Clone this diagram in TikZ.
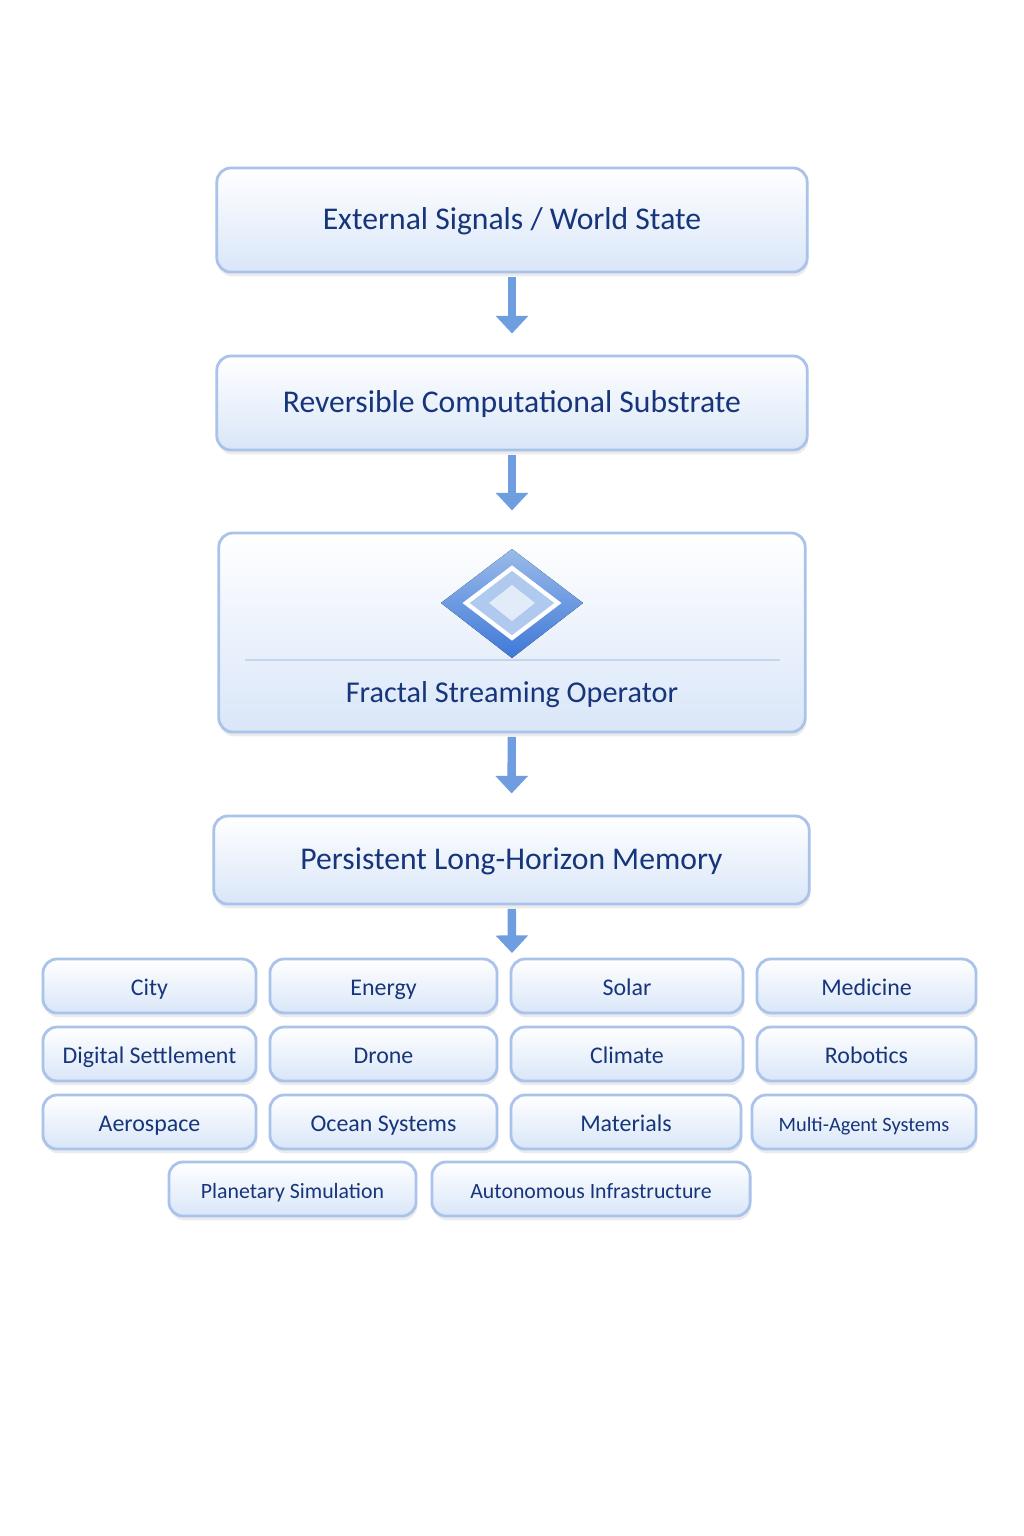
\documentclass[tikz,border=0pt]{standalone}
\usepackage{fontspec}
\setmainfont{Carlito}
\usetikzlibrary{positioning, shadows, arrows.meta}
\definecolor{navy}{HTML}{16357A}
\definecolor{edge}{HTML}{A9C3EA}
\definecolor{paleblue}{HTML}{D9E6F8}
\definecolor{arrowblue}{HTML}{6E9EE0}
\definecolor{deepblue}{HTML}{3F78D8}
\tikzset{
    x=0.01cm, y=-0.01cm,
    box/.style={draw=edge, line width=0.8pt, rounded corners=4pt, top color=white, bottom color=paleblue, text=navy, drop shadow={shadow xshift=0.3pt, shadow yshift=-1.2pt, fill=black!25, opacity=0.3}, inner sep=0pt, text height=1.5ex, text depth=0.4ex}, % big boxes
    tile/.style={box, font=\fontsize{6.8}{8}\selectfont, minimum height=0.54cm}, % domain tiles
    flow/.style={-{Triangle[length=5pt, width=9pt]}, arrowblue, line width=2.4pt, shorten <=1pt, shorten >=6pt}, % arrows down
}
\begin{document}
\begin{tikzpicture}
\useasboundingbox[fill=white] (0,0) rectangle (1024,1536);
\node[box, minimum width=5.9cm, minimum height=1.04cm, font=\fontsize{9}{11}\selectfont] (signals) at (512,220) {External Signals / World State};
\node[box, minimum width=5.9cm, minimum height=0.94cm, font=\fontsize{9}{11}\selectfont] (substrate) at (512,403) {Reversible Computational Substrate};
\node[box, minimum width=5.86cm, minimum height=1.99cm] (operator) at (512,632.5) {};
\node[text=navy, font=\fontsize{8.6}{11}\selectfont] (opname) at (512,695) {Fractal Streaming Operator};
\node[box, minimum width=5.95cm, minimum height=0.88cm, font=\fontsize{9}{11}\selectfont] (memory) at (511.5,860) {Persistent Long-Horizon Memory};
% separator and diamond mark
\draw[edge!70, line width=0.6pt] (245,660) -- (780,660);
\fill[top color=arrowblue!70, bottom color=deepblue] (512,549) -- (583,603) -- (512,658) -- (441,603) -- cycle;
\draw[white, line width=1.2pt, fill=arrowblue!55] (512,568) -- (558,603) -- (512,638) -- (466,603) -- cycle;
\fill[white!80!arrowblue] (512,585) -- (535,603) -- (512,621) -- (489,603) -- cycle;
% arrows
\coordinate (m1) at (512,953);
\draw[flow] (signals) -- (substrate);
\draw[flow] (substrate) -- (operator);
\draw[flow] (operator) -- (memory);
\draw[flow, shorten >=0pt] (memory) -- (m1);
% domain tiles
\node[tile, minimum width=2.13cm] (city) at (149.5,986) {City};
\node[tile, minimum width=2.27cm] (energy) at (383.5,986) {Energy};
\node[tile, minimum width=2.32cm] (solar) at (627,986) {Solar};
\node[tile, minimum width=2.19cm] (medicine) at (866.5,986) {Medicine};
\node[tile, minimum width=2.13cm] (settlement) at (149.5,1054) {Digital Settlement};
\node[tile, minimum width=2.27cm] (drone) at (383.5,1054) {Drone};
\node[tile, minimum width=2.32cm] (climate) at (627,1054) {Climate};
\node[tile, minimum width=2.19cm] (robotics) at (866.5,1054) {Robotics};
\node[tile, minimum width=2.13cm] (aerospace) at (149.5,1122) {Aerospace};
\node[tile, minimum width=2.27cm] (ocean) at (383.5,1122) {Ocean Systems};
\node[tile, minimum width=2.30cm] (materials) at (626,1122) {Materials};
\node[tile, minimum width=2.24cm, font=\fontsize{5.8}{7}\selectfont] (agents) at (864,1122) {Multi-Agent Systems};
\node[tile, minimum width=2.47cm, font=\fontsize{6.2}{7}\selectfont] (planetary) at (292.5,1189) {Planetary Simulation};
\node[tile, minimum width=3.18cm, font=\fontsize{6.2}{7}\selectfont] (infra) at (591,1189) {Autonomous Infrastructure};
\end{tikzpicture}
\end{document}
